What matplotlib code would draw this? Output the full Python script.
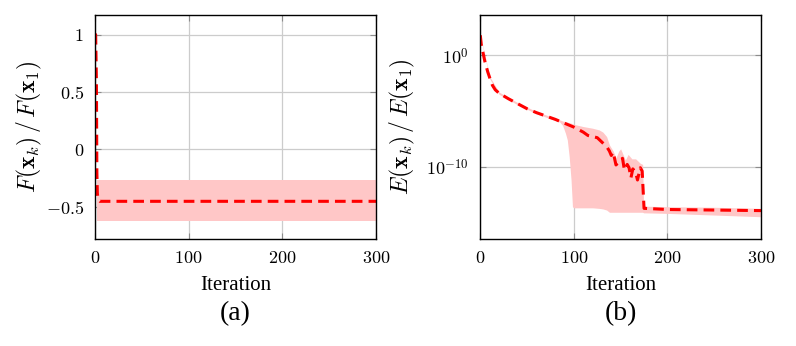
import numpy as np
import matplotlib
matplotlib.use("Agg")
import matplotlib.pyplot as plt
from matplotlib.ticker import NullLocator, FixedLocator

plt.rcParams["mathtext.fontset"] = "cm"
plt.rcParams["font.family"] = ["cmr10", "DejaVu Sans"]
plt.rcParams["axes.formatter.use_mathtext"] = True

# (a) normalised objective
a_iter = [0, 0.7, 1.5, 2.0, 2.5, 3.0, 4.0, 5.0, 300]
a_mean = [1.0, 1.0, 0.6, -0.2, -0.38, -0.42, -0.445, -0.452, -0.452]
a_band_iter = [2.5, 300]
a_band_hi = [-0.265, -0.265]
a_band_lo = [-0.62, -0.62]

# (b) normalised error, values as log10 exponents
b_iter = [0, 1, 2, 3, 5, 8, 10, 13, 16, 20, 30, 40, 50, 60, 70, 80, 90, 100,
          110, 115, 120, 125, 130, 135, 138, 140, 142, 145, 148, 152, 154, 157,
          159, 161, 163, 166, 168, 171, 173, 175, 176, 200, 250, 300]
b_mean = [1.8, 1.0, 0.6, 0.2, -0.6, -1.5, -2.0, -2.7, -3.1, -3.4, -3.9, -4.35,
          -4.8, -5.15, -5.45, -5.75, -6.1, -6.45, -6.9, -7.2, -7.3, -7.4, -7.8,
          -8.2, -8.6, -9.0, -8.7, -9.85, -9.6, -9.25, -10.3, -9.8, -10.1, -11.0,
          -10.2, -10.5, -11.2, -10.1, -10.4, -13.75, -13.75, -13.85, -13.9, -13.95]
b_band_iter = [0, 10, 20, 40, 60, 80, 85, 88, 91, 93, 95, 97, 98.5, 100, 110,
               120, 127, 131, 135, 138, 142, 145, 148, 150, 153, 155, 158, 162,
               166, 171, 173.5, 174.5, 200, 250, 300]
b_band_hi = [1.85, -1.9, -3.3, -4.25, -5.05, -5.65, -5.8, -5.9, -5.95, -6.0,
             -6.05, -6.1, -6.15, -6.2, -6.4, -6.55, -6.7, -6.9, -7.3, -8.05,
             -8.6, -9.2, -8.6, -8.4, -9.0, -9.4, -8.9, -9.3, -9.3, -9.7, -9.8,
             -13.55, -13.6, -13.65, -13.75]
b_band_lo = [1.75, -2.1, -3.5, -4.45, -5.25, -5.85, -6.0, -6.3, -7.0, -7.6,
             -9.1, -11.2, -13.6, -13.7, -13.7, -13.7, -13.75, -13.8, -13.9,
             -14.1, -14.1, -14.1, -14.1, -14.1, -14.1, -14.1, -14.1, -14.1,
             -14.1, -14.1, -14.1, -14.15, -14.2, -14.35, -14.5]

RED = "red"
BAND = (1.0, 0.78, 0.78)
TICK_FS = 13
LABEL_FS = 17

fig = plt.figure(figsize=(7.96, 3.46), dpi=100)
ax_a = fig.add_axes([95 / 796, 1 - 239 / 346, 281 / 796, 224 / 346])
ax_b = fig.add_axes([480.3 / 796, 1 - 239 / 346, 280.7 / 796, 224 / 346])

ax_a.fill_between(a_band_iter, a_band_lo, a_band_hi, color=BAND, lw=0)
ax_a.plot(a_iter, a_mean, color=RED, lw=2.2, dashes=(3.5, 2))
ax_a.set_ylim(-0.78, 1.17)
ax_a.set_yticks([-0.5, 0, 0.5, 1])
ax_a.set_yticklabels([r"$-0.5$", r"$0$", r"$0.5$", r"$1$"])
ax_a.set_ylabel(r"$F(\mathbf{x}_k)\,/\,F(\mathbf{x}_1)$", fontsize=LABEL_FS, labelpad=1)

ax_b.fill_between(b_band_iter, 10.0 ** np.array(b_band_lo), 10.0 ** np.array(b_band_hi),
                  color=BAND, lw=0)
ax_b.plot(b_iter, 10.0 ** np.array(b_mean), color=RED, lw=2.2, dashes=(3.5, 2))
ax_b.set_yscale("log")
ax_b.set_ylim(10 ** -16.5, 10 ** 3.62)
ax_b.yaxis.set_major_locator(FixedLocator([1e-10, 1e0]))
ax_b.yaxis.set_minor_locator(NullLocator())
ax_b.set_yticklabels([r"$10^{-10}$", r"$10^{0}$"])
ax_b.set_ylabel(r"$E(\mathbf{x}_k)\,/\,E(\mathbf{x}_1)$", fontsize=LABEL_FS, labelpad=7)

for ax in (ax_a, ax_b):
    ax.set_xlim(0, 300)
    ax.set_xticks([0, 100, 200, 300])
    ax.set_xticklabels([r"$0$", r"$100$", r"$200$", r"$300$"])
    ax.grid(True, color="0.8", lw=0.9)
    ax.set_axisbelow(True)
    ax.tick_params(direction="in", top=True, right=True, length=4, color="0.55",
                   labelsize=TICK_FS, pad=8)
    for s in ax.spines.values():
        s.set_linewidth(1.0)
    ax.set_xlabel("Iteration", fontsize=15, family="Liberation Serif", labelpad=7)

fig.text((95 + 376) / 2 / 796, 1 - 314 / 346, "(a)", ha="center", va="center",
         fontsize=20, family="Liberation Serif")
fig.text((480 + 761) / 2 / 796, 1 - 314 / 346, "(b)", ha="center", va="center",
         fontsize=20, family="Liberation Serif")

fig.savefig("out.png", dpi=100)
